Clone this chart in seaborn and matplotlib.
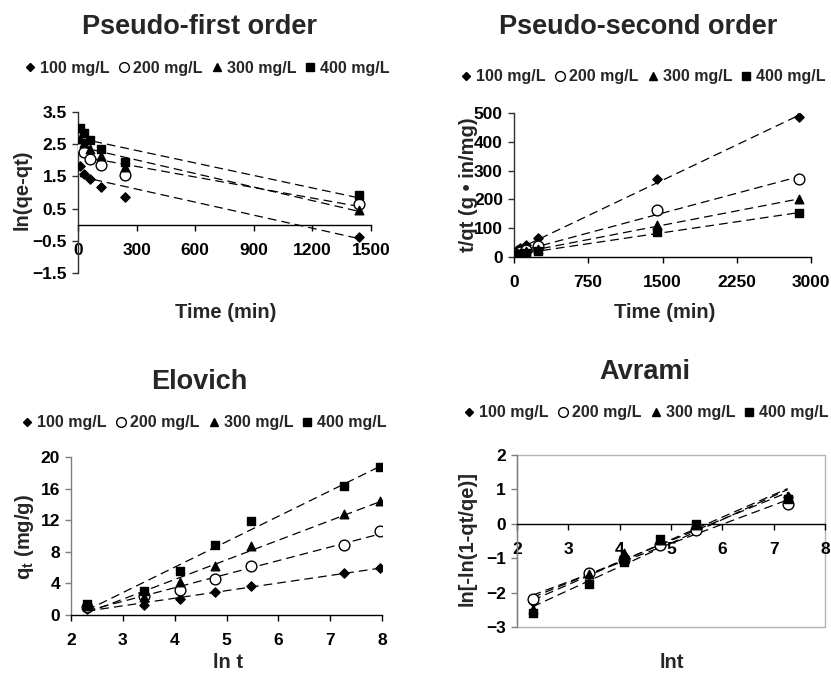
import numpy as np
import pandas as pd
import matplotlib
matplotlib.use("Agg")
import matplotlib.pyplot as plt
from matplotlib.lines import Line2D
from matplotlib.patches import Rectangle
import seaborn as sns

# ---------------- data ----------------
series = ["100 mg/L", "200 mg/L", "300 mg/L", "400 mg/L"]
t_min = [10, 30, 60, 120, 240, 1440, 2880]
ln_t = [2.303, 3.401, 4.094, 4.787, 5.481, 7.272, 7.966]

# Pseudo-first order: ln(qe-qt) vs time (first six times)
pfo_100 = [1.83, 1.58, 1.41, 1.18, 0.87, -0.37]
pfo_200 = [2.40, 2.27, 2.05, 1.86, 1.53, 0.63]
pfo_300 = [2.66, 2.53, 2.36, 2.12, 1.78, 0.47]
pfo_400 = [3.00, 2.86, 2.62, 2.35, 1.96, 0.91]

# Pseudo-second order: t/qt vs time
pso_100 = [13, 24, 30, 41, 65, 271, 485]
pso_200 = [10, 13, 19, 26, 39, 163, 271]
pso_300 = [8.5, 13, 14.5, 19.5, 27.6, 110, 200]
pso_400 = [7, 10, 11, 13.5, 20, 86, 152]

# Elovich: qt vs ln t
elo_100 = [0.76, 1.27, 2.03, 2.91, 3.67, 5.32, 5.91]
elo_200 = [1.00, 2.36, 3.12, 4.56, 6.16, 8.86, 10.63]
elo_300 = [1.18, 2.28, 4.13, 6.16, 8.69, 12.78, 14.39]
elo_400 = [1.43, 3.04, 5.53, 8.90, 11.86, 16.37, 18.78]

# Avrami: ln[-ln(1-qt/qe)] vs ln t (first six times)
avr_100 = [-2.27, -1.45, -0.95, -0.57, -0.09, 0.79]
avr_200 = [-2.19, -1.43, -1.06, -0.62, -0.18, 0.57]
avr_300 = [-2.47, -1.47, -0.86, -0.48, -0.04, 0.82]
avr_400 = [-2.59, -1.76, -1.11, -0.45, -0.01, 0.72]

# ---------------- style ----------------
sns.set_style("ticks")
plt.rcParams["font.family"] = ["Liberation Sans", "DejaVu Sans"]
plt.rcParams["font.weight"] = "bold"
plt.rcParams["axes.labelweight"] = "bold"
plt.rcParams["mathtext.fontset"] = "custom"
plt.rcParams["mathtext.rm"] = "Liberation Sans:bold"
plt.rcParams["mathtext.bf"] = "Liberation Sans:bold"

W, H = 831, 673
fig = plt.figure(figsize=(W / 100, H / 100), dpi=100)


def fx(x):
    return x / W


def fy(y):
    return 1 - y / H


def make_ax(l, r, t, b):
    return fig.add_axes([fx(l), fy(b), (r - l) / W, (b - t) / H])


markers = ["D", "o", "^", "s"]
faces = ["black", "white", "black", "black"]
sizes = [22, 60, 38, 32]
leg_ms = [4.0, 7.0, 5.5, 5.5]
dash = dict(color="black", lw=0.9, ls=(0, (7, 4)))
TICK_FS = 12.5
LAB_FS = 14.5
TITLE_FS = 19.5
LEG_FS = 11.5


def draw(ax, x, ys):
    for y, m, fc, s in zip(ys, markers, faces, sizes):
        xx = x[: len(y)]
        sns.regplot(x=xx, y=y, ax=ax, scatter=False, ci=None, truncate=True,
                    line_kws=dash)
        sns.scatterplot(x=xx, y=y, ax=ax, marker=m, s=s, color=fc,
                        edgecolor="black", linewidth=1.0, zorder=3,
                        legend=False)


def style(ax, spine_color="#303030"):
    for sp in ["top", "right"]:
        ax.spines[sp].set_visible(False)
    ax.spines["left"].set_color(spine_color)
    ax.spines["bottom"].set_color("black")
    for sp in ["left", "bottom"]:
        ax.spines[sp].set_linewidth(1.0)
    ax.tick_params(axis="both", direction="out", length=4, width=1,
                   labelsize=TICK_FS, colors="black")
    ax.tick_params(axis="x", pad=9)
    ax.tick_params(axis="y", pad=4, color=spine_color)
    for lab in ax.get_xticklabels() + ax.get_yticklabels():
        lab.set_fontweight("bold")
    ax.set_facecolor("none")


def legend(ax, cx, cy):
    handles = [Line2D([], [], ls="none", marker=m, ms=ms, mfc=fc, mec="black",
                      mew=1.0)
               for m, fc, ms in zip(markers, faces, leg_ms)]
    ax.legend(handles, series, ncol=4, frameon=False, loc="center",
              bbox_to_anchor=(fx(cx), fy(cy)), bbox_transform=fig.transFigure,
              prop=dict(size=LEG_FS, weight="bold"), handlelength=0.7,
              handletextpad=0.25, columnspacing=0.55, borderaxespad=0,
              borderpad=0)


def texts(ax, title, tpos, xlabel, xpos, ylabel, ypos):
    fig.text(fx(tpos[0]), fy(tpos[1]), title, ha="center", va="center",
             fontsize=TITLE_FS, fontweight="bold")
    ax.set_xlabel(xlabel, fontsize=LAB_FS, fontweight="bold")
    ax.xaxis.set_label_coords(fx(xpos[0]), fy(xpos[1]), transform=fig.transFigure)
    ax.xaxis.label.set_va("center")
    ax.set_ylabel(ylabel, fontsize=LAB_FS, fontweight="bold")
    ax.yaxis.set_label_coords(fx(ypos[0]), fy(ypos[1]), transform=fig.transFigure)
    ax.yaxis.label.set_va("center")


# ---------------- Pseudo-first order ----------------
ax1 = make_ax(78, 371, 112, 273)
draw(ax1, t_min, [pfo_100, pfo_200, pfo_300, pfo_400])
ax1.set_xlim(0, 1500)
ax1.set_ylim(-1.5, 3.5)
ax1.set_xticks([0, 300, 600, 900, 1200, 1500])
ax1.set_yticks([-1.5, -0.5, 0.5, 1.5, 2.5, 3.5])
style(ax1)
ax1.spines["bottom"].set_position(("data", 0))
legend(ax1, 207, 68)
texts(ax1, "Pseudo-first order", (200, 27), "Time (min)", (226, 313),
      "ln(qe-qt)", (22, 190))

# ---------------- Pseudo-second order ----------------
ax2 = make_ax(514, 811, 113, 257)
draw(ax2, t_min, [pso_100, pso_200, pso_300, pso_400])
ax2.set_xlim(0, 3000)
ax2.set_ylim(0, 500)
ax2.set_xticks([0, 750, 1500, 2250, 3000])
ax2.set_yticks([0, 100, 200, 300, 400, 500])
style(ax2)
legend(ax2, 643, 77)
texts(ax2, "Pseudo-second order", (638, 27), "Time (min)", (665, 313),
      "t/qt (g \u2022 in/mg)", (469, 185))

# ---------------- Elovich ----------------
ax3 = make_ax(71, 382, 457, 615)
draw(ax3, ln_t, [elo_100, elo_200, elo_300, elo_400])
ax3.set_xlim(2, 8)
ax3.set_ylim(0, 20)
ax3.set_xticks(range(2, 9))
ax3.set_yticks([0, 4, 8, 12, 16, 20])
style(ax3, spine_color="#7f7f7f")
legend(ax3, 204, 423)
texts(ax3, "Elovich", (199, 382), "ln t", (228, 663),
      "q$_{\\mathrm{t}}$ (mg/g)", (25, 537))

# ---------------- Avrami ----------------
ax4 = make_ax(517, 825, 455, 627)
draw(ax4, ln_t, [avr_100, avr_200, avr_300, avr_400])
ax4.set_xlim(2, 8)
ax4.set_ylim(-3, 2)
ax4.set_xticks(range(2, 9))
ax4.set_yticks(range(-3, 3))
style(ax4, spine_color="#7f7f7f")
ax4.spines["bottom"].set_position(("data", 0))
ax4.add_patch(Rectangle((0, 0), 1, 1, transform=ax4.transAxes, fill=False,
                        ec="#b4b4b4", lw=1.0, zorder=0.5, clip_on=False))
legend(ax4, 646, 413)
texts(ax4, "Avrami", (645, 372), "lnt", (672, 663),
      "ln[-ln(1-qt/qe)]", (467, 539))

fig.savefig("out.png", dpi=100, facecolor="white")
